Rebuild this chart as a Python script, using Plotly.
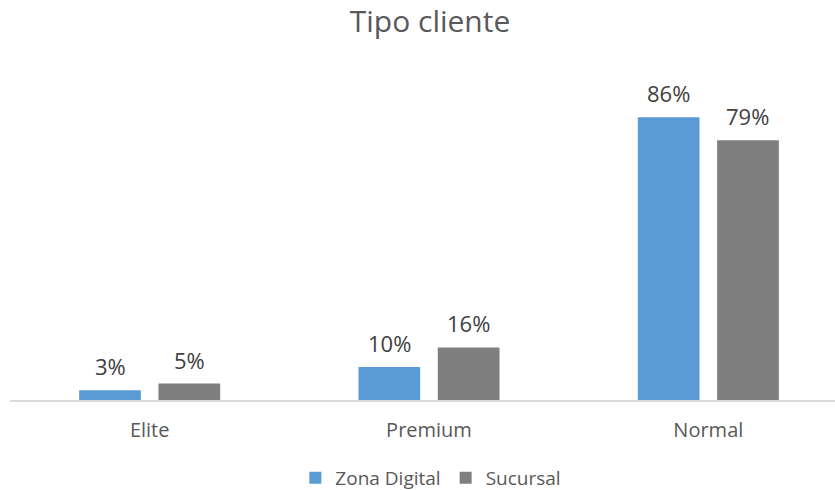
import plotly.graph_objects as go

# Customer type share by channel
categorias = ["Elite", "Premium", "Normal"]
zona_digital = [3, 10, 86]
sucursal = [5, 16, 79]
series = [("Zona Digital", zona_digital, "#5B9BD5"), ("Sucursal", sucursal, "#7F7F7F")]

FONT = "Open Sans"
BARGAP = 0.432
BARGROUPGAP = 0.222

fig = go.Figure()
for nombre, valores, color in series:
    fig.add_trace(go.Bar(
        x=categorias, y=valores, name=nombre,
        marker=dict(color=color, line=dict(width=0)),
    ))

# value labels above each bar, centred on the grouped bar positions
slot = (1 - BARGAP) / len(series)
for j, (nombre, valores, color) in enumerate(series):
    off = (j - (len(series) - 1) / 2) * slot
    for i, v in enumerate(valores):
        fig.add_annotation(
            x=i + off, y=v, xref="x", yref="y",
            text=f"{v}%", showarrow=False,
            yanchor="bottom", yshift=7,
            font=dict(family=FONT, size=22, color="#404040"),
        )

fig.update_layout(
    width=835, height=490,
    margin=dict(l=10, r=0, t=60, b=90),
    paper_bgcolor="white", plot_bgcolor="white",
    barmode="group", bargap=BARGAP, bargroupgap=BARGROUPGAP,
    title=dict(
        text="Tipo cliente", x=0.515, xref="container", xanchor="center",
        y=0.957, yref="container", yanchor="middle",
        font=dict(family=FONT, size=30, color="#595959"),
    ),
    legend=dict(
        orientation="h", x=0.516, xref="container", xanchor="center",
        y=0.0245, yref="container", yanchor="middle",
        font=dict(family=FONT, size=19, color="#595959"),
        itemwidth=30, traceorder="normal",
    ),
    showlegend=True,
)
fig.update_xaxes(
    type="category", range=[-0.5, 2.4535],
    showline=True, linecolor="#D9D9D9", linewidth=1.5,
    showgrid=False, zeroline=False,
    ticks="outside", ticklen=11, tickcolor="rgba(0,0,0,0)",
    tickfont=dict(family=FONT, size=20, color="#595959"),
)
fig.update_yaxes(
    range=[0, 103.4], visible=False, showgrid=False, zeroline=False,
)

fig.write_html("out.html")
